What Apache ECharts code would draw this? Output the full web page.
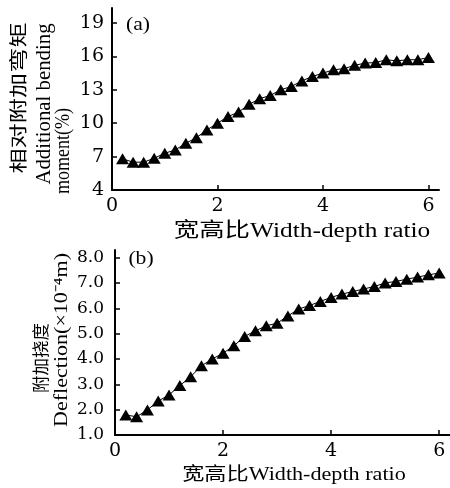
<!DOCTYPE html>
<html>
<head>
<meta charset="utf-8">
<script src="https://cdn.jsdelivr.net/npm/echarts@6/dist/echarts.min.js"></script>
<style>
  html, body { margin: 0; padding: 0; background: #fff; }
  #chart { width: 450px; height: 488px; }
</style>
</head>
<body>
<div id="chart"></div>
<script>
// ---- data ----
const widthDepthRatio = [0.2, 0.4, 0.6, 0.8, 1.0, 1.2, 1.4, 1.6, 1.8, 2.0,
  2.2, 2.4, 2.6, 2.8, 3.0, 3.2, 3.4, 3.6, 3.8, 4.0,
  4.2, 4.4, 4.6, 4.8, 5.0, 5.2, 5.4, 5.6, 5.8, 6.0];
const additionalMoment = [6.8, 6.5, 6.5, 6.85, 7.3, 7.6, 8.2, 8.7, 9.4, 10.0,
  10.6, 11.0, 11.7, 12.2, 12.5, 13.0, 13.3, 13.8, 14.2, 14.5,
  14.8, 14.9, 15.2, 15.4, 15.45, 15.7, 15.6, 15.7, 15.7, 15.9];
const additionalDeflection = [1.79, 1.72, 1.99, 2.34, 2.58, 2.95, 3.3, 3.73, 4.0, 4.23,
  4.52, 4.89, 5.11, 5.31, 5.41, 5.7, 5.97, 6.11, 6.27, 6.43,
  6.56, 6.66, 6.76, 6.86, 7.0, 7.06, 7.15, 7.23, 7.32, 7.39];
const xTicks = [0, 2, 4, 6];
const momentTicks = [4, 7, 10, 13, 16, 19];
const deflectionTicks = [1, 2, 3, 4, 5, 6, 7, 8];

const xTitle = '宽高比Width-depth ratio';
const momentTitleCn = '相对附加弯矩';
const momentTitleEn1 = 'Additional bending';
const momentTitleEn2 = 'moment(%)';
const deflTitleCn = '附加挠度';
const deflTitleEn = 'Deflection(×10⁻⁴m)';

// ---- chart ----
const chart = echarts.init(document.getElementById('chart'), null, { renderer: 'canvas' });
const serif = '"Liberation Serif", "Noto Sans CJK SC", serif';
const tickFont = '"DejaVu Serif", serif';

function xAxisCfg(gridIndex) {
  return {
    type: 'value', gridIndex, min: 0, max: 6.2,
    axisLine: { lineStyle: { color: '#000', width: 2 } },
    axisTick: { inside: true, length: 5, customValues: xTicks, lineStyle: { color: '#000', width: 1.5 } },
    axisLabel: { customValues: xTicks, color: '#000', fontFamily: tickFont, fontSize: 19, margin: 7 },
    splitLine: { show: false }
  };
}
function yAxisCfg(gridIndex, min, max, ticks, fs, margin, fmt) {
  return {
    type: 'value', gridIndex, min, max,
    axisLine: { show: true, lineStyle: { color: '#000', width: 2 } },
    axisTick: { show: true, inside: true, length: 5, customValues: ticks, lineStyle: { color: '#000', width: 1.5 } },
    axisLabel: { customValues: ticks, color: '#000', fontFamily: tickFont, fontSize: fs, margin, formatter: fmt },
    splitLine: { show: false }
  };
}
function txt(text, x, y, fs, opts) {
  opts = opts || {};
  return {
    type: 'text', x, y,
    rotation: opts.rot || 0,
    scaleX: opts.sx || 1,
    style: {
      text, fill: '#000', fontSize: fs, fontFamily: opts.family || serif,
      align: 'center', verticalAlign: 'middle',
      textAlign: 'center', textVerticalAlign: 'middle'
    }
  };
}

const lineSeries = (xi, yi, ys) => ({
  type: 'line', xAxisIndex: xi, yAxisIndex: yi,
  data: widthDepthRatio.map((x, i) => [x, ys[i]]),
  symbol: 'triangle', symbolSize: [13, 11], showSymbol: true,
  itemStyle: { color: '#000' },
  lineStyle: { color: '#000', width: 1 },
  animation: false
});

chart.setOption({
  backgroundColor: '#fff',
  animation: false,
  grid: [
    { left: 112, top: 8, width: 327, height: 182, outerBoundsMode: 'none', containLabel: false },
    { left: 115, top: 250, width: 335, height: 185, outerBoundsMode: 'none', containLabel: false }
  ],
  xAxis: [xAxisCfg(0), xAxisCfg(1)],
  yAxis: [
    yAxisCfg(0, 4, 20.35, momentTicks, 19, 8, v => String(v)),
    yAxisCfg(1, 1, 8.3, deflectionTicks, 17, 11, v => v.toFixed(1))
  ],
  series: [
    lineSeries(0, 0, additionalMoment),
    lineSeries(1, 1, additionalDeflection)
  ],
  graphic: [
    txt('(a)', 138, 25, 18, { sx: 1.2 }),
    txt('(b)', 141, 259, 18, { sx: 1.2 }),
    txt(xTitle, 302, 232, 20, { sx: 1.27 }),
    txt(xTitle, 294, 475, 18, { sx: 1.23 }),
    txt(momentTitleCn, 20, 98, 18, { rot: Math.PI / 2, sx: 1.4 }),
    txt(momentTitleEn1, 45, 104, 20, { rot: Math.PI / 2, sx: 1.04 }),
    txt(momentTitleEn2, 64, 151, 20, { rot: Math.PI / 2, sx: 0.9 }),
    txt(deflTitleCn, 43, 358, 17, { rot: Math.PI / 2, sx: 1.03 }),
    txt(deflTitleEn, 62, 340, 19, { rot: Math.PI / 2, sx: 1.16 })
  ]
});
</script>
</body>
</html>
